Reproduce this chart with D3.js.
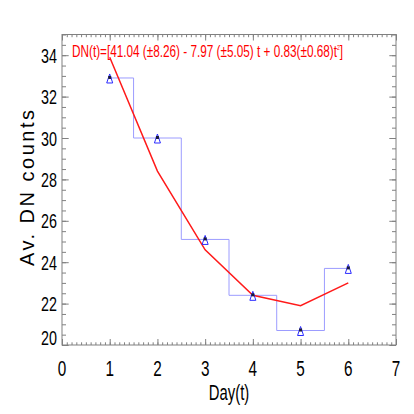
<!DOCTYPE html>
<html>
<head>
<meta charset="utf-8">
<script src="https://cdn.jsdelivr.net/npm/d3@7"></script>
<style>
  body { margin: 0; background: #fff; }
  text { font-family: "Liberation Sans", Arial, sans-serif; }
</style>
</head>
<body>
<div id="chart"></div>
<script>
const days = [1, 2, 3, 4, 5, 6];
const avgCounts = [32.9, 30.0, 25.1, 22.4, 20.7, 23.7];
const fitCounts = [33.9, 28.4, 24.6, 22.4, 21.9, 23.0];
const xTicks = [0, 1, 2, 3, 4, 5, 6, 7];
const yTicks = [20, 22, 24, 26, 28, 30, 32, 34];

const w = 414;
const h = 414;
const padL = 62, padR = 396, padT = 34.5, padB = 345;
const axisColor = '#808080';

const svg = d3.select('#chart').append('svg').attr('width', w).attr('height', h);

const x = d3.scaleLinear().domain([0, 7]).range([padL, padR]);
const y = d3.scaleLinear().domain([20, 35]).range([padB, padT]);

const xMinor = d3.range(0, 70.5).map((d) => d / 10);
const yMinor = d3.range(40, 70.5).map((d) => d / 2);

const styleAxis = (g) => {
  g.select('.domain').remove();
  g.selectAll('line').attr('stroke', axisColor);
};

// minor + major ticks on all four sides, pointing inward
svg.append('g').attr('transform', `translate(0,${padB})`)
  .call(d3.axisBottom(x).tickValues(xMinor).tickSize(-2.7).tickFormat('')).call(styleAxis);
svg.append('g').attr('transform', `translate(0,${padB})`)
  .call(d3.axisBottom(x).tickValues(xTicks).tickSize(-6).tickFormat('')).call(styleAxis);
svg.append('g').attr('transform', `translate(0,${padT})`)
  .call(d3.axisTop(x).tickValues(xMinor).tickSize(-2.7).tickFormat('')).call(styleAxis);
svg.append('g').attr('transform', `translate(0,${padT})`)
  .call(d3.axisTop(x).tickValues(xTicks).tickSize(-6).tickFormat('')).call(styleAxis);
svg.append('g').attr('transform', `translate(${padL},0)`)
  .call(d3.axisLeft(y).tickValues(yMinor).tickSize(-4).tickFormat('')).call(styleAxis);
svg.append('g').attr('transform', `translate(${padL},0)`)
  .call(d3.axisLeft(y).tickValues(yTicks).tickSize(-6.7).tickFormat('')).call(styleAxis);
svg.append('g').attr('transform', `translate(${padR},0)`)
  .call(d3.axisRight(y).tickValues(yMinor).tickSize(-4).tickFormat('')).call(styleAxis);
svg.append('g').attr('transform', `translate(${padR},0)`)
  .call(d3.axisRight(y).tickValues(yTicks).tickSize(-6.7).tickFormat('')).call(styleAxis);

svg.append('rect')
  .attr('x', padL).attr('y', padT)
  .attr('width', padR - padL).attr('height', padB - padT)
  .attr('fill', 'none').attr('stroke', axisColor).attr('stroke-width', 1);

// tick labels (narrow font, squeezed horizontally)
svg.selectAll('.xlab').data(xTicks).enter().append('g')
  .attr('transform', (d) => `translate(${x(d)},376) scale(0.68,1)`)
  .append('text')
  .attr('text-anchor', 'middle').attr('font-size', 22.5).attr('fill', '#000')
  .text((d) => d);

svg.selectAll('.ylab').data(yTicks).enter().append('g')
  .attr('transform', (d) => `translate(57,${y(d) + (d === 20 ? 0 : 7.5)}) scale(0.7,1)`)
  .append('text')
  .attr('text-anchor', 'end').attr('font-size', 20.5).attr('fill', '#000')
  .text((d) => d);

svg.append('g').attr('transform', `translate(${(padL + padR) / 2},400) scale(0.66,1)`)
  .append('text')
  .attr('text-anchor', 'middle').attr('font-size', 22.5).attr('fill', '#000')
  .text('Day(t)');

svg.append('text')
  .attr('transform', `translate(34,${(110 + 266) / 2}) rotate(-90)`)
  .attr('text-anchor', 'middle').attr('font-size', 20).attr('fill', '#000')
  .attr('textLength', 156).attr('lengthAdjust', 'spacing')
  .text('Av. DN counts');

// fit formula
const title = svg.append('g').attr('transform', 'translate(72,57) scale(0.735,1)')
  .append('text').attr('font-size', 16).attr('fill', 'red');
title.append('tspan').text('DN(t)=[41.04 (±8.26) - 7.97 (±5.05) t + 0.83(±0.68)t');
title.append('tspan').attr('font-size', 7).attr('dy', -7).text('2');
title.append('tspan').attr('dy', 7).text(']');

// step histogram
const pts = days.map((d, i) => [d, avgCounts[i]]);
svg.append('path')
  .datum(pts)
  .attr('fill', 'none').attr('stroke', '#9c9cff').attr('stroke-width', 1)
  .attr('d', d3.line().x((d) => x(d[0])).y((d) => y(d[1])).curve(d3.curveStep));

// fit line
svg.append('path')
  .datum(days.map((d, i) => [d, fitCounts[i]]))
  .attr('fill', 'none').attr('stroke', '#ff1a1a').attr('stroke-width', 1.5)
  .attr('d', d3.line().x((d) => x(d[0])).y((d) => y(d[1])));

// markers
const mk = svg.selectAll('.mk').data(pts).enter().append('g')
  .attr('transform', (d) => `translate(${x(d[0])},${y(d[1])})`);
mk.append('path')
  .attr('d', 'M0,-4L3,5L-3,5Z')
  .attr('fill', 'none').attr('stroke', '#2a2aff').attr('stroke-width', 1);
mk.append('rect')
  .attr('x', -1.5).attr('y', -2).attr('width', 3).attr('height', 3)
  .attr('fill', '#1a1a3a');
</script>
</body>
</html>
